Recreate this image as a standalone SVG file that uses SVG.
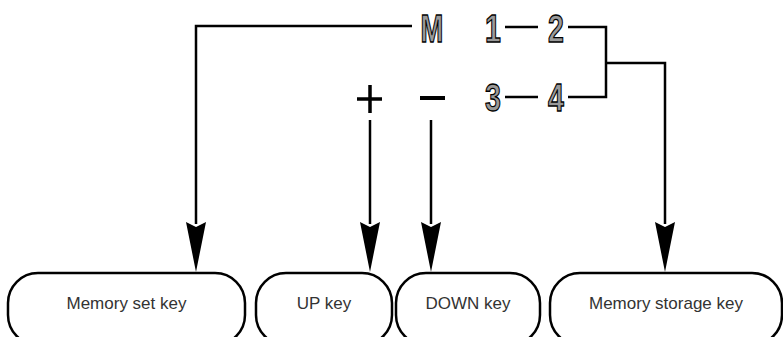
<svg xmlns="http://www.w3.org/2000/svg" width="783" height="337" viewBox="0 0 783 337">
<defs>
<style>
.ln{fill:none;stroke:#000;stroke-width:2.5}
.box{fill:#fff;stroke:#000;stroke-width:2.5}
.lbl{font-family:"Liberation Sans",Arial,sans-serif;font-size:17px;fill:#333;text-anchor:middle}
.key{font-family:"Liberation Sans Narrow","Liberation Sans",Arial,sans-serif;font-weight:bold;font-size:38px;fill:#9a9a9a;stroke:#000;stroke-width:1.3;text-anchor:middle}
.head{fill:#000}
</style>
</defs>
<rect width="783" height="337" fill="#fff"/>
<g id="keys">
<text class="key" x="432" y="42" transform="translate(432 0) scale(0.72 1) translate(-432 0)">M</text>
<text class="key" x="493" y="42" transform="translate(493 0) scale(0.75 1) translate(-493 0)">1</text>
<text class="key" x="556" y="42" transform="translate(556 0) scale(0.75 1) translate(-556 0)">2</text>
<text class="key" x="493" y="111" transform="translate(493 0) scale(0.75 1) translate(-493 0)">3</text>
<text class="key" x="556" y="111" transform="translate(556 0) scale(0.75 1) translate(-556 0)">4</text>
<path d="M357 99H382M370 85V113" stroke="#000" stroke-width="3.5" fill="none"/>
<path d="M420 98H445" stroke="#000" stroke-width="4" fill="none"/>
</g>
<g id="connectors">
<path class="ln" d="M412 26H196V224"/>
<path class="ln" d="M505 27H538M568 27H606V97H568M505 97H538"/>
<path class="ln" d="M606 63H665V224"/>
<path class="ln" d="M370 120V224"/>
<path class="ln" d="M431 120V224"/>
<polygon class="head" points="186,222 196,227 206,222 196,272"/>
<polygon class="head" points="360,222 370,227 380,222 370,272"/>
<polygon class="head" points="421,222 431,227 441,222 431,272"/>
<polygon class="head" points="655,222 665,227 675,222 665,272"/>
</g>
<g id="memory-set-key">
<rect class="box" x="8" y="273" width="237" height="72" rx="30" ry="30"/>
<text class="lbl" x="126.5" y="309">Memory set key</text>
</g>
<g id="up-key">
<rect class="box" x="256" y="273" width="136" height="72" rx="30" ry="30"/>
<text class="lbl" x="324" y="309">UP key</text>
</g>
<g id="down-key">
<rect class="box" x="396" y="273" width="144" height="72" rx="30" ry="30"/>
<text class="lbl" x="468" y="309">DOWN key</text>
</g>
<g id="memory-storage-key">
<rect class="box" x="550" y="273" width="232" height="72" rx="30" ry="30"/>
<text class="lbl" x="666" y="309">Memory storage key</text>
</g>
</svg>
